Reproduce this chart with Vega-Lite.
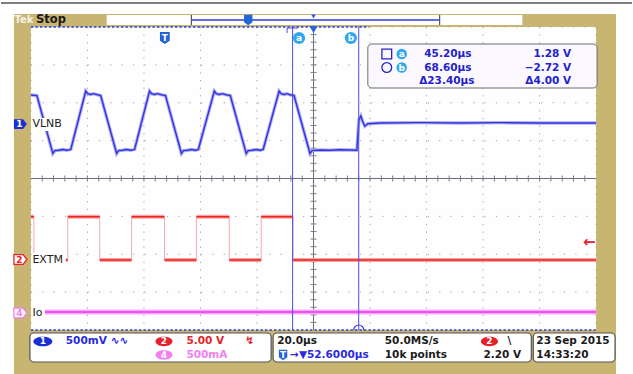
{
  "$schema": "https://vega.github.io/schema/vega-lite/v6.json",
  "width": 633,
  "height": 374,
  "autosize": {"type": "fit", "contains": "padding"},
  "padding": 0,
  "background": "#ffffff",
  "config": {"view": {"stroke": null}},
  "encoding": {
    "x": {"field": "t", "type": "quantitative", "scale": {"domain": [-57.982, 165.296], "nice": false, "zero": false}, "axis": null},
    "y": {"field": "v", "type": "quantitative", "scale": {"domain": [-5.1617, 4.7129], "nice": false, "zero": false}, "axis": null}
  },
  "datasets": {
    "rects": [
      {"kind": "tan", "t": -53.4, "t2": 159.65, "v": 4.3432, "v2": -5.1617},
      {"kind": "grat", "t": -47.4, "t2": 152.6, "v": 4, "v2": -4},
      {"kind": "recbar", "t": -20.59, "t2": 126.5, "v": 4.3168, "v2": 4.0528},
      {"kind": "labelbg", "t": -47.2, "t2": -35.76, "v": 1.5974, "v2": 1.2541},
      {"kind": "labelbg", "t": -47.2, "t2": -35.05, "v": -1.967, "v2": -2.3102},
      {"kind": "labelbg", "t": -47.2, "t2": -42.46, "v": -3.3663, "v2": -3.7359},
      {"kind": "readout", "t": 71.82, "t2": 152.95, "v": 3.5511, "v2": 2.3894},
      {"kind": "status", "t": -47.75, "t2": 37.61, "v": -4.0792, "v2": -4.8449},
      {"kind": "status", "t": 38.31, "t2": 129.67, "v": -4.0792, "v2": -4.8449},
      {"kind": "status", "t": 130.38, "t2": 159.3, "v": -4.0792, "v2": -4.8449}
    ],
    "rules": [
      {"kind": "topline", "t": -57.982, "t2": 165.296, "v": 4.6337, "v2": 4.6337},
      {"kind": "gridv", "t": -27.4, "t2": -27.4, "v": 4, "v2": -4},
      {"kind": "gridv", "t": -7.4, "t2": -7.4, "v": 4, "v2": -4},
      {"kind": "gridv", "t": 12.6, "t2": 12.6, "v": 4, "v2": -4},
      {"kind": "gridv", "t": 32.6, "t2": 32.6, "v": 4, "v2": -4},
      {"kind": "gridv", "t": 72.6, "t2": 72.6, "v": 4, "v2": -4},
      {"kind": "gridv", "t": 92.6, "t2": 92.6, "v": 4, "v2": -4},
      {"kind": "gridv", "t": 112.6, "t2": 112.6, "v": 4, "v2": -4},
      {"kind": "gridv", "t": 132.6, "t2": 132.6, "v": 4, "v2": -4},
      {"kind": "gridv", "t": -47.4, "t2": -47.4, "v": 4, "v2": -4},
      {"kind": "gridv", "t": 152.6, "t2": 152.6, "v": 4, "v2": -4},
      {"kind": "gridh", "t": -47.4, "t2": 152.6, "v": 3, "v2": 3},
      {"kind": "gridh", "t": -47.4, "t2": 152.6, "v": 2, "v2": 2},
      {"kind": "gridh", "t": -47.4, "t2": 152.6, "v": 1, "v2": 1},
      {"kind": "gridh", "t": -47.4, "t2": 152.6, "v": -1, "v2": -1},
      {"kind": "gridh", "t": -47.4, "t2": 152.6, "v": -2, "v2": -2},
      {"kind": "gridh", "t": -47.4, "t2": 152.6, "v": -3, "v2": -3},
      {"kind": "gridh", "t": 72.18, "t2": 152.6, "v": 4, "v2": 4},
      {"kind": "edgeblue", "t": -47.4, "t2": 72.18, "v": 4, "v2": 4},
      {"kind": "edgeblue", "t": -47.4, "t2": 152.6, "v": -4, "v2": -4},
      {"kind": "center", "t": -47.4, "t2": 152.6, "v": 0, "v2": 0},
      {"kind": "center", "t": 52.6, "t2": 52.6, "v": 4, "v2": -4},
      {"kind": "tick", "t": -43.4, "t2": -43.4, "v": 0.08, "v2": -0.08},
      {"kind": "tick", "t": -39.4, "t2": -39.4, "v": 0.08, "v2": -0.08},
      {"kind": "tick", "t": -35.4, "t2": -35.4, "v": 0.08, "v2": -0.08},
      {"kind": "tick", "t": -31.4, "t2": -31.4, "v": 0.08, "v2": -0.08},
      {"kind": "tick", "t": -27.4, "t2": -27.4, "v": 0.08, "v2": -0.08},
      {"kind": "tick", "t": -23.4, "t2": -23.4, "v": 0.08, "v2": -0.08},
      {"kind": "tick", "t": -19.4, "t2": -19.4, "v": 0.08, "v2": -0.08},
      {"kind": "tick", "t": -15.4, "t2": -15.4, "v": 0.08, "v2": -0.08},
      {"kind": "tick", "t": -11.4, "t2": -11.4, "v": 0.08, "v2": -0.08},
      {"kind": "tick", "t": -7.4, "t2": -7.4, "v": 0.08, "v2": -0.08},
      {"kind": "tick", "t": -3.4, "t2": -3.4, "v": 0.08, "v2": -0.08},
      {"kind": "tick", "t": 0.6, "t2": 0.6, "v": 0.08, "v2": -0.08},
      {"kind": "tick", "t": 4.6, "t2": 4.6, "v": 0.08, "v2": -0.08},
      {"kind": "tick", "t": 8.6, "t2": 8.6, "v": 0.08, "v2": -0.08},
      {"kind": "tick", "t": 12.6, "t2": 12.6, "v": 0.08, "v2": -0.08},
      {"kind": "tick", "t": 16.6, "t2": 16.6, "v": 0.08, "v2": -0.08},
      {"kind": "tick", "t": 20.6, "t2": 20.6, "v": 0.08, "v2": -0.08},
      {"kind": "tick", "t": 24.6, "t2": 24.6, "v": 0.08, "v2": -0.08},
      {"kind": "tick", "t": 28.6, "t2": 28.6, "v": 0.08, "v2": -0.08},
      {"kind": "tick", "t": 32.6, "t2": 32.6, "v": 0.08, "v2": -0.08},
      {"kind": "tick", "t": 36.6, "t2": 36.6, "v": 0.08, "v2": -0.08},
      {"kind": "tick", "t": 40.6, "t2": 40.6, "v": 0.08, "v2": -0.08},
      {"kind": "tick", "t": 44.6, "t2": 44.6, "v": 0.08, "v2": -0.08},
      {"kind": "tick", "t": 48.6, "t2": 48.6, "v": 0.08, "v2": -0.08},
      {"kind": "tick", "t": 56.6, "t2": 56.6, "v": 0.08, "v2": -0.08},
      {"kind": "tick", "t": 60.6, "t2": 60.6, "v": 0.08, "v2": -0.08},
      {"kind": "tick", "t": 64.6, "t2": 64.6, "v": 0.08, "v2": -0.08},
      {"kind": "tick", "t": 68.6, "t2": 68.6, "v": 0.08, "v2": -0.08},
      {"kind": "tick", "t": 72.6, "t2": 72.6, "v": 0.08, "v2": -0.08},
      {"kind": "tick", "t": 76.6, "t2": 76.6, "v": 0.08, "v2": -0.08},
      {"kind": "tick", "t": 80.6, "t2": 80.6, "v": 0.08, "v2": -0.08},
      {"kind": "tick", "t": 84.6, "t2": 84.6, "v": 0.08, "v2": -0.08},
      {"kind": "tick", "t": 88.6, "t2": 88.6, "v": 0.08, "v2": -0.08},
      {"kind": "tick", "t": 92.6, "t2": 92.6, "v": 0.08, "v2": -0.08},
      {"kind": "tick", "t": 96.6, "t2": 96.6, "v": 0.08, "v2": -0.08},
      {"kind": "tick", "t": 100.6, "t2": 100.6, "v": 0.08, "v2": -0.08},
      {"kind": "tick", "t": 104.6, "t2": 104.6, "v": 0.08, "v2": -0.08},
      {"kind": "tick", "t": 108.6, "t2": 108.6, "v": 0.08, "v2": -0.08},
      {"kind": "tick", "t": 112.6, "t2": 112.6, "v": 0.08, "v2": -0.08},
      {"kind": "tick", "t": 116.6, "t2": 116.6, "v": 0.08, "v2": -0.08},
      {"kind": "tick", "t": 120.6, "t2": 120.6, "v": 0.08, "v2": -0.08},
      {"kind": "tick", "t": 124.6, "t2": 124.6, "v": 0.08, "v2": -0.08},
      {"kind": "tick", "t": 128.6, "t2": 128.6, "v": 0.08, "v2": -0.08},
      {"kind": "tick", "t": 132.6, "t2": 132.6, "v": 0.08, "v2": -0.08},
      {"kind": "tick", "t": 136.6, "t2": 136.6, "v": 0.08, "v2": -0.08},
      {"kind": "tick", "t": 140.6, "t2": 140.6, "v": 0.08, "v2": -0.08},
      {"kind": "tick", "t": 144.6, "t2": 144.6, "v": 0.08, "v2": -0.08},
      {"kind": "tick", "t": 148.6, "t2": 148.6, "v": 0.08, "v2": -0.08},
      {"kind": "tick", "t": 51.54, "t2": 53.66, "v": 3.8, "v2": 3.8},
      {"kind": "tick", "t": 51.54, "t2": 53.66, "v": 3.6, "v2": 3.6},
      {"kind": "tick", "t": 51.54, "t2": 53.66, "v": 3.4, "v2": 3.4},
      {"kind": "tick", "t": 51.54, "t2": 53.66, "v": 3.2, "v2": 3.2},
      {"kind": "tick", "t": 51.54, "t2": 53.66, "v": 3.0, "v2": 3.0},
      {"kind": "tick", "t": 51.54, "t2": 53.66, "v": 2.8, "v2": 2.8},
      {"kind": "tick", "t": 51.54, "t2": 53.66, "v": 2.6, "v2": 2.6},
      {"kind": "tick", "t": 51.54, "t2": 53.66, "v": 2.4, "v2": 2.4},
      {"kind": "tick", "t": 51.54, "t2": 53.66, "v": 2.2, "v2": 2.2},
      {"kind": "tick", "t": 51.54, "t2": 53.66, "v": 2.0, "v2": 2.0},
      {"kind": "tick", "t": 51.54, "t2": 53.66, "v": 1.8, "v2": 1.8},
      {"kind": "tick", "t": 51.54, "t2": 53.66, "v": 1.6, "v2": 1.6},
      {"kind": "tick", "t": 51.54, "t2": 53.66, "v": 1.4, "v2": 1.4},
      {"kind": "tick", "t": 51.54, "t2": 53.66, "v": 1.2, "v2": 1.2},
      {"kind": "tick", "t": 51.54, "t2": 53.66, "v": 1.0, "v2": 1.0},
      {"kind": "tick", "t": 51.54, "t2": 53.66, "v": 0.8, "v2": 0.8},
      {"kind": "tick", "t": 51.54, "t2": 53.66, "v": 0.6, "v2": 0.6},
      {"kind": "tick", "t": 51.54, "t2": 53.66, "v": 0.4, "v2": 0.4},
      {"kind": "tick", "t": 51.54, "t2": 53.66, "v": 0.2, "v2": 0.2},
      {"kind": "tick", "t": 51.54, "t2": 53.66, "v": -0.2, "v2": -0.2},
      {"kind": "tick", "t": 51.54, "t2": 53.66, "v": -0.4, "v2": -0.4},
      {"kind": "tick", "t": 51.54, "t2": 53.66, "v": -0.6, "v2": -0.6},
      {"kind": "tick", "t": 51.54, "t2": 53.66, "v": -0.8, "v2": -0.8},
      {"kind": "tick", "t": 51.54, "t2": 53.66, "v": -1.0, "v2": -1.0},
      {"kind": "tick", "t": 51.54, "t2": 53.66, "v": -1.2, "v2": -1.2},
      {"kind": "tick", "t": 51.54, "t2": 53.66, "v": -1.4, "v2": -1.4},
      {"kind": "tick", "t": 51.54, "t2": 53.66, "v": -1.6, "v2": -1.6},
      {"kind": "tick", "t": 51.54, "t2": 53.66, "v": -1.8, "v2": -1.8},
      {"kind": "tick", "t": 51.54, "t2": 53.66, "v": -2.0, "v2": -2.0},
      {"kind": "tick", "t": 51.54, "t2": 53.66, "v": -2.2, "v2": -2.2},
      {"kind": "tick", "t": 51.54, "t2": 53.66, "v": -2.4, "v2": -2.4},
      {"kind": "tick", "t": 51.54, "t2": 53.66, "v": -2.6, "v2": -2.6},
      {"kind": "tick", "t": 51.54, "t2": 53.66, "v": -2.8, "v2": -2.8},
      {"kind": "tick", "t": 51.54, "t2": 53.66, "v": -3.0, "v2": -3.0},
      {"kind": "tick", "t": 51.54, "t2": 53.66, "v": -3.2, "v2": -3.2},
      {"kind": "tick", "t": 51.54, "t2": 53.66, "v": -3.4, "v2": -3.4},
      {"kind": "tick", "t": 51.54, "t2": 53.66, "v": -3.6, "v2": -3.6},
      {"kind": "tick", "t": 51.54, "t2": 53.66, "v": -3.8, "v2": -3.8},
      {"kind": "cursor", "t": 45.2, "t2": 45.2, "v": 4, "v2": -4},
      {"kind": "cursor", "t": 68.6, "t2": 68.6, "v": 4, "v2": -4},
      {"kind": "cursor", "t": 43.25, "t2": 47.13, "v": 3.9736, "v2": 3.9736},
      {"kind": "cursor", "t": 43.25, "t2": 43.25, "v": 3.9736, "v2": 3.8416},
      {"kind": "recline", "t": 9.39, "t2": 97.22, "v": 4.1848, "v2": 4.1848},
      {"kind": "recend", "t": 9.39, "t2": 9.39, "v": 4.3168, "v2": 4.0528},
      {"kind": "recend", "t": 97.22, "t2": 97.22, "v": 4.3168, "v2": 4.0528}
    ],
    "ch1": [
      {"t": -47.40, "v": 2.205}, {"t": -45.28, "v": 2.19}, {"t": -39.64, "v": 0.66}, {"t": -38.93, "v": 0.735},
      {"t": -37.52, "v": 0.745}, {"t": -36.11, "v": 0.765}, {"t": -34.70, "v": 0.745}, {"t": -33.29, "v": 0.77},
      {"t": -28.00, "v": 2.31}, {"t": -27.29, "v": 2.24}, {"t": -26.24, "v": 2.22}, {"t": -25.18, "v": 2.24},
      {"t": -23.77, "v": 2.21}, {"t": -22.71, "v": 2.19}, {"t": -17.07, "v": 0.66}, {"t": -16.36, "v": 0.735},
      {"t": -14.95, "v": 0.745}, {"t": -13.54, "v": 0.765}, {"t": -12.13, "v": 0.745}, {"t": -10.72, "v": 0.77},
      {"t": -5.42, "v": 2.31}, {"t": -4.72, "v": 2.24}, {"t": -3.66, "v": 2.22}, {"t": -2.60, "v": 2.24},
      {"t": -1.19, "v": 2.21}, {"t": 0.22, "v": 2.19}, {"t": 5.86, "v": 0.66}, {"t": 6.57, "v": 0.735},
      {"t": 7.98, "v": 0.745}, {"t": 9.39, "v": 0.765}, {"t": 10.80, "v": 0.745}, {"t": 11.86, "v": 0.77},
      {"t": 17.50, "v": 2.31}, {"t": 18.21, "v": 2.24}, {"t": 19.27, "v": 2.22}, {"t": 20.33, "v": 2.24},
      {"t": 21.74, "v": 2.21}, {"t": 23.15, "v": 2.19}, {"t": 28.79, "v": 0.66}, {"t": 29.50, "v": 0.735},
      {"t": 30.91, "v": 0.745}, {"t": 32.32, "v": 0.765}, {"t": 33.73, "v": 0.745}, {"t": 34.79, "v": 0.77},
      {"t": 40.43, "v": 2.31}, {"t": 41.14, "v": 2.24}, {"t": 42.19, "v": 2.22}, {"t": 43.25, "v": 2.24},
      {"t": 44.31, "v": 2.21}, {"t": 45.72, "v": 2.19}, {"t": 51.36, "v": 0.66}, {"t": 52.06, "v": 0.735},
      {"t": 54.89, "v": 0.752}, {"t": 58.42, "v": 0.745}, {"t": 61.94, "v": 0.76}, {"t": 65.47, "v": 0.752},
      {"t": 67.94, "v": 0.745}, {"t": 68.65, "v": 1.545}, {"t": 69.35, "v": 1.650}, {"t": 70.06, "v": 1.492},
      {"t": 70.76, "v": 1.38}, {"t": 71.82, "v": 1.445}, {"t": 76.05, "v": 1.465}, {"t": 90.16, "v": 1.475},
      {"t": 104.27, "v": 1.465}, {"t": 118.38, "v": 1.475}, {"t": 132.49, "v": 1.465}, {"t": 152.60, "v": 1.465}
    ],
    "ch2": [
      {"kind": "level", "t": -47.40, "t2": -46.34, "v": -1.009, "v2": -1.009},
      {"kind": "level", "t": -46.34, "t2": -34.35, "v": -2.152, "v2": -2.152},
      {"kind": "level", "t": -34.35, "t2": -23.06, "v": -1.009, "v2": -1.009},
      {"kind": "level", "t": -23.06, "t2": -11.77, "v": -2.152, "v2": -2.152},
      {"kind": "level", "t": -11.77, "t2": -0.13, "v": -1.009, "v2": -1.009},
      {"kind": "level", "t": -0.13, "t2": 11.16, "v": -2.152, "v2": -2.152},
      {"kind": "level", "t": 11.16, "t2": 22.79, "v": -1.009, "v2": -1.009},
      {"kind": "level", "t": 22.79, "t2": 34.08, "v": -2.152, "v2": -2.152},
      {"kind": "level", "t": 34.08, "t2": 45.37, "v": -1.009, "v2": -1.009},
      {"kind": "level", "t": 45.37, "t2": 152.6, "v": -2.152, "v2": -2.152},
      {"kind": "edge", "t": -46.34, "t2": -46.34, "v": -1.009, "v2": -2.152},
      {"kind": "edge", "t": -34.35, "t2": -34.35, "v": -1.009, "v2": -2.152},
      {"kind": "edge", "t": -23.06, "t2": -23.06, "v": -1.009, "v2": -2.152},
      {"kind": "edge", "t": -11.77, "t2": -11.77, "v": -1.009, "v2": -2.152},
      {"kind": "edge", "t": -0.13, "t2": -0.13, "v": -1.009, "v2": -2.152},
      {"kind": "edge", "t": 11.16, "t2": 11.16, "v": -1.009, "v2": -2.152},
      {"kind": "edge", "t": 22.79, "t2": 22.79, "v": -1.009, "v2": -2.152},
      {"kind": "edge", "t": 34.08, "t2": 34.08, "v": -1.009, "v2": -2.152},
      {"kind": "edge", "t": 45.37, "t2": 45.37, "v": -1.009, "v2": -2.152}
    ],
    "ch4": [
      {"t": -42.46, "t2": 152.6, "v": -3.5247, "v2": -3.5247}
    ],
    "icons": [
      {"kind": "tag1", "t": -51.1, "v": 1.4389},
      {"kind": "tag2", "t": -51.1, "v": -2.1386},
      {"kind": "tag4", "t": -51.1, "v": -3.5511},
      {"kind": "shield", "t": 0, "v": 3.7096},
      {"kind": "shieldsmall", "t": 29.5, "v": 4.1848},
      {"kind": "shieldsmall", "t": 41.84, "v": -4.6601},
      {"kind": "curlabel", "t": 47.48, "v": 3.7096},
      {"kind": "curlabel", "t": 65.83, "v": 3.7096},
      {"kind": "rolabel", "t": 83.82, "v": 3.2871},
      {"kind": "rolabel", "t": 83.82, "v": 2.9307},
      {"kind": "rosquare", "t": 78.53, "v": 3.2871},
      {"kind": "rocircle", "t": 78.53, "v": 2.9307},
      {"kind": "trig", "t": 52.6, "v": 3.934},
      {"kind": "trigsmall", "t": 52.6, "v": 4.2772},
      {"kind": "stat1", "t": -43.17, "v": -4.3036},
      {"kind": "stat2", "t": -0.31, "v": -4.3036},
      {"kind": "stat2", "t": 114.86, "v": -4.3036},
      {"kind": "stat4", "t": -0.31, "v": -4.6601},
      {"kind": "arc", "t": 68.6, "v": -3.934}
    ],
    "texts": [
      {"kind": "tek", "t": -53.2, "v": 4.1848, "label": "Tek"},
      {"kind": "stop", "t": -45.6, "v": 4.1848, "label": "Stop"},
      {"kind": "white", "t": -51.5, "v": 1.4389, "label": "1"},
      {"kind": "white", "t": 0, "v": 3.72, "label": "T"},
      {"kind": "white", "t": 47.48, "v": 3.7096, "label": "a"},
      {"kind": "white", "t": 65.83, "v": 3.7096, "label": "b"},
      {"kind": "white", "t": 83.82, "v": 3.2871, "label": "a"},
      {"kind": "white", "t": 83.82, "v": 2.9307, "label": "b"},
      {"kind": "white", "t": -43.17, "v": -4.3036, "label": "1"},
      {"kind": "white", "t": -0.31, "v": -4.3036, "label": "2"},
      {"kind": "white", "t": 114.86, "v": -4.3036, "label": "2"},
      {"kind": "white", "t": -0.31, "v": -4.6601, "label": "4"},
      {"kind": "white", "t": 41.84, "v": -4.655, "label": "T"},
      {"kind": "tag2text", "t": -51.5, "v": -2.1386, "label": "2"},
      {"kind": "tag4text", "t": -51.5, "v": -3.5511, "label": "4"},
      {"kind": "chan", "t": -46.87, "v": 1.4389, "label": "VLNB"},
      {"kind": "chan", "t": -46.87, "v": -2.1386, "label": "EXTM"},
      {"kind": "chan", "t": -46.87, "v": -3.5511, "label": "Io"},
      {"kind": "readout", "t": 108.51, "v": 3.2871, "label": "45.20µs"},
      {"kind": "readout", "t": 143.78, "v": 3.2871, "label": "1.28 V"},
      {"kind": "readout", "t": 108.51, "v": 2.9307, "label": "68.60µs"},
      {"kind": "readout", "t": 143.78, "v": 2.9307, "label": "−2.72 V"},
      {"kind": "readout", "t": 109.57, "v": 2.5743, "label": "Δ23.40µs"},
      {"kind": "readout", "t": 143.78, "v": 2.5743, "label": "Δ4.00 V"},
      {"kind": "sblue", "t": -35.05, "v": -4.3036, "label": "500mV"},
      {"kind": "sblue", "t": -19.18, "v": -4.3036, "label": "∿∿"},
      {"kind": "sblue", "t": 44.31, "v": -4.6601, "label": "→▼52.6000µs"},
      {"kind": "sred", "t": 7.63, "v": -4.3036, "label": "5.00 V"},
      {"kind": "sred", "t": 28.44, "v": -4.3036, "label": "↯"},
      {"kind": "smag", "t": 7.63, "v": -4.6601, "label": "500mA"},
      {"kind": "sblack", "t": 39.73, "v": -4.3036, "label": "20.0µs"},
      {"kind": "sblack", "t": 77.82, "v": -4.3036, "label": "50.0MS/s"},
      {"kind": "sblack", "t": 121.2, "v": -4.3036, "label": "\\"},
      {"kind": "sblack", "t": 77.82, "v": -4.6601, "label": "10k points"},
      {"kind": "sblack", "t": 112.74, "v": -4.6601, "label": "2.20 V"},
      {"kind": "sblack", "t": 131.44, "v": -4.3036, "label": "23 Sep  2015"},
      {"kind": "sblack", "t": 131.44, "v": -4.6601, "label": "14:33:20"},
      {"kind": "arrow", "t": 150.2, "v": -1.6766, "label": "←"}
    ]
  },
  "layer": [
    {"data": {"name": "rects"}, "transform": [{"filter": "datum.kind == 'tan'"}], "mark": {"type": "rect", "fill": "#c7b571"}, "encoding": {"x2": {"field": "t2"}, "y2": {"field": "v2"}}},
    {"data": {"name": "rects"}, "transform": [{"filter": "datum.kind == 'grat' || datum.kind == 'recbar'"}], "mark": {"type": "rect", "fill": "#fefefe"}, "encoding": {"x2": {"field": "t2"}, "y2": {"field": "v2"}}},
    {"data": {"name": "rules"}, "transform": [{"filter": "datum.kind == 'topline'"}], "mark": {"type": "rule", "color": "#555555", "strokeWidth": 1.5}, "encoding": {"x2": {"field": "t2"}, "y2": {"field": "v2"}}},
    {"data": {"name": "rules"}, "transform": [{"filter": "datum.kind == 'gridv'"}], "mark": {"type": "rule", "color": "#a0a0a0", "strokeWidth": 1, "strokeDash": [1.2, 6.375]}, "encoding": {"x2": {"field": "t2"}, "y2": {"field": "v2"}}},
    {"data": {"name": "rules"}, "transform": [{"filter": "datum.kind == 'gridh'"}], "mark": {"type": "rule", "color": "#a0a0a0", "strokeWidth": 1, "strokeDash": [1.2, 10.14]}, "encoding": {"x2": {"field": "t2"}, "y2": {"field": "v2"}}},
    {"data": {"name": "rules"}, "transform": [{"filter": "datum.kind == 'edgeblue'"}], "mark": {"type": "rule", "color": "#2b3fd9", "strokeWidth": 1.3, "strokeDash": [2.5, 2]}, "encoding": {"x2": {"field": "t2"}, "y2": {"field": "v2"}}},
    {"data": {"name": "rules"}, "transform": [{"filter": "datum.kind == 'center'"}], "mark": {"type": "rule", "color": "#6c6c7c", "strokeWidth": 1}, "encoding": {"x2": {"field": "t2"}, "y2": {"field": "v2"}}},
    {"data": {"name": "rules"}, "transform": [{"filter": "datum.kind == 'tick'"}], "mark": {"type": "rule", "color": "#7c7c8c", "strokeWidth": 1}, "encoding": {"x2": {"field": "t2"}, "y2": {"field": "v2"}}},
    {"data": {"name": "ch4"}, "mark": {"type": "rule", "color": "#f6a6f6", "strokeWidth": 5}, "encoding": {"x2": {"field": "t2"}, "y2": {"field": "v2"}}},
    {"data": {"name": "ch4"}, "mark": {"type": "rule", "color": "#ec36ec", "strokeWidth": 1.6}, "encoding": {"x2": {"field": "t2"}, "y2": {"field": "v2"}}},
    {"data": {"name": "ch2"}, "transform": [{"filter": "datum.kind == 'edge'"}], "mark": {"type": "rule", "color": "#f4aaaa", "strokeWidth": 1}, "encoding": {"x2": {"field": "t2"}, "y2": {"field": "v2"}}},
    {"data": {"name": "ch2"}, "transform": [{"filter": "datum.kind == 'level'"}], "mark": {"type": "rule", "color": "#f7a3a3", "strokeWidth": 4}, "encoding": {"x2": {"field": "t2"}, "y2": {"field": "v2"}}},
    {"data": {"name": "ch2"}, "transform": [{"filter": "datum.kind == 'level'"}], "mark": {"type": "rule", "color": "#ee2020", "strokeWidth": 1.6}, "encoding": {"x2": {"field": "t2"}, "y2": {"field": "v2"}}},
    {"data": {"name": "ch1"}, "mark": {"type": "line", "color": "#aeaef4", "strokeWidth": 3.4}, "encoding": {}},
    {"data": {"name": "ch1"}, "mark": {"type": "line", "color": "#3434df", "strokeWidth": 1.4}, "encoding": {}},
    {"data": {"name": "rules"}, "transform": [{"filter": "datum.kind == 'cursor'"}], "mark": {"type": "rule", "color": "#4d4deb", "strokeWidth": 1}, "encoding": {"x2": {"field": "t2"}, "y2": {"field": "v2"}}},
    {"data": {"name": "rules"}, "transform": [{"filter": "datum.kind == 'recline'"}], "mark": {"type": "rule", "color": "#2b3fd9", "strokeWidth": 1.5}, "encoding": {"x2": {"field": "t2"}, "y2": {"field": "v2"}}},
    {"data": {"name": "rules"}, "transform": [{"filter": "datum.kind == 'recend'"}], "mark": {"type": "rule", "color": "#555566", "strokeWidth": 1.2}, "encoding": {"x2": {"field": "t2"}, "y2": {"field": "v2"}}},
    {"data": {"name": "rects"}, "transform": [{"filter": "datum.kind == 'labelbg'"}], "mark": {"type": "rect", "fill": "#fefefe"}, "encoding": {"x2": {"field": "t2"}, "y2": {"field": "v2"}}},
    {"data": {"name": "rects"}, "transform": [{"filter": "datum.kind == 'readout'"}], "mark": {"type": "rect", "fill": "#fbf9ff", "stroke": "#6a6a6a", "strokeWidth": 1, "cornerRadius": 4}, "encoding": {"x2": {"field": "t2"}, "y2": {"field": "v2"}}},
    {"data": {"name": "rects"}, "transform": [{"filter": "datum.kind == 'status'"}], "mark": {"type": "rect", "fill": "#ffffff", "stroke": "#555555", "strokeWidth": 1.2, "cornerRadius": 4}, "encoding": {"x2": {"field": "t2"}, "y2": {"field": "v2"}}},
    {"data": {"name": "icons"}, "transform": [{"filter": "datum.kind == 'tag1'"}], "mark": {"type": "point", "shape": "M-1,-0.75L0.4,-0.75L1,0L0.4,0.75L-1,0.75Z", "size": 169, "filled": true, "fill": "#1a2fd6", "opacity": 1}},
    {"data": {"name": "icons"}, "transform": [{"filter": "datum.kind == 'tag2'"}], "mark": {"type": "point", "shape": "M-1,-0.75L0.4,-0.75L1,0L0.4,0.75L-1,0.75Z", "size": 169, "filled": true, "fill": "#ffffff", "stroke": "#e5202a", "strokeWidth": 1.3, "opacity": 1}},
    {"data": {"name": "icons"}, "transform": [{"filter": "datum.kind == 'tag4'"}], "mark": {"type": "point", "shape": "M-1,-0.75L0.4,-0.75L1,0L0.4,0.75L-1,0.75Z", "size": 169, "filled": true, "fill": "#ffffff", "stroke": "#f07ff0", "strokeWidth": 1.3, "opacity": 1}},
    {"data": {"name": "icons"}, "transform": [{"filter": "datum.kind == 'shield'"}], "mark": {"type": "point", "shape": "M-0.8,-1L0.8,-1L0.8,0.45L0,1L-0.8,0.45Z", "size": 150, "filled": true, "fill": "#2563d8", "opacity": 1}},
    {"data": {"name": "icons"}, "transform": [{"filter": "datum.kind == 'shieldsmall'"}], "mark": {"type": "point", "shape": "M-0.8,-1L0.8,-1L0.8,0.45L0,1L-0.8,0.45Z", "size": 110, "filled": true, "fill": "#2563d8", "opacity": 1}},
    {"data": {"name": "icons"}, "transform": [{"filter": "datum.kind == 'curlabel'"}], "mark": {"type": "point", "shape": "circle", "size": 150, "filled": true, "fill": "#2fa8ee", "opacity": 1}},
    {"data": {"name": "icons"}, "transform": [{"filter": "datum.kind == 'rolabel'"}], "mark": {"type": "point", "shape": "circle", "size": 110, "filled": true, "fill": "#2fa8ee", "opacity": 1}},
    {"data": {"name": "icons"}, "transform": [{"filter": "datum.kind == 'rosquare'"}], "mark": {"type": "point", "shape": "square", "size": 95, "filled": false, "stroke": "#2323c9", "strokeWidth": 1.3, "opacity": 1}},
    {"data": {"name": "icons"}, "transform": [{"filter": "datum.kind == 'rocircle'"}], "mark": {"type": "point", "shape": "circle", "size": 95, "filled": false, "stroke": "#2323c9", "strokeWidth": 1.3, "opacity": 1}},
    {"data": {"name": "icons"}, "transform": [{"filter": "datum.kind == 'trig'"}], "mark": {"type": "point", "shape": "triangle-down", "size": 70, "filled": true, "fill": "#2f5fe0", "opacity": 1}},
    {"data": {"name": "icons"}, "transform": [{"filter": "datum.kind == 'trigsmall'"}], "mark": {"type": "point", "shape": "triangle-down", "size": 22, "filled": true, "fill": "#2f5fe0", "opacity": 1}},
    {"data": {"name": "icons"}, "transform": [{"filter": "datum.kind == 'stat1'"}], "mark": {"type": "point", "shape": "M-1,0A1,0.5 0 1 1 1,0A1,0.5 0 1 1 -1,0Z", "size": 361, "filled": true, "fill": "#1a2fd6", "opacity": 1}},
    {"data": {"name": "icons"}, "transform": [{"filter": "datum.kind == 'stat2'"}], "mark": {"type": "point", "shape": "M-1,0A1,0.55 0 1 1 1,0A1,0.55 0 1 1 -1,0Z", "size": 289, "filled": true, "fill": "#e5202a", "opacity": 1}},
    {"data": {"name": "icons"}, "transform": [{"filter": "datum.kind == 'stat4'"}], "mark": {"type": "point", "shape": "M-1,0A1,0.55 0 1 1 1,0A1,0.55 0 1 1 -1,0Z", "size": 289, "filled": true, "fill": "#f07ff0", "opacity": 1}},
    {"data": {"name": "icons"}, "transform": [{"filter": "datum.kind == 'arc'"}], "mark": {"type": "point", "shape": "M-1,0.5A1,1 0 0 1 1,0.5", "size": 100, "filled": false, "stroke": "#3a3ae6", "strokeWidth": 1.2, "opacity": 1}},
    {"data": {"name": "texts"}, "transform": [{"filter": "datum.kind == 'tek'"}], "mark": {"type": "text", "align": "left", "baseline": "middle", "font": "DejaVu Sans", "fontSize": 10, "fontWeight": "bold", "color": "#f7f3e6"}, "encoding": {"text": {"field": "label"}}},
    {"data": {"name": "texts"}, "transform": [{"filter": "datum.kind == 'stop'"}], "mark": {"type": "text", "align": "left", "baseline": "middle", "font": "DejaVu Sans", "fontSize": 11.5, "fontWeight": "bold", "color": "#1a1a1a"}, "encoding": {"text": {"field": "label"}}},
    {"data": {"name": "texts"}, "transform": [{"filter": "datum.kind == 'white'"}], "mark": {"type": "text", "align": "center", "baseline": "middle", "font": "DejaVu Sans", "fontSize": 9, "fontWeight": "bold", "color": "#ffffff"}, "encoding": {"text": {"field": "label"}}},
    {"data": {"name": "texts"}, "transform": [{"filter": "datum.kind == 'tag2text'"}], "mark": {"type": "text", "align": "center", "baseline": "middle", "font": "DejaVu Sans", "fontSize": 9, "fontWeight": "bold", "color": "#e5202a"}, "encoding": {"text": {"field": "label"}}},
    {"data": {"name": "texts"}, "transform": [{"filter": "datum.kind == 'tag4text'"}], "mark": {"type": "text", "align": "center", "baseline": "middle", "font": "DejaVu Sans", "fontSize": 9, "fontWeight": "bold", "color": "#f07ff0"}, "encoding": {"text": {"field": "label"}}},
    {"data": {"name": "texts"}, "transform": [{"filter": "datum.kind == 'chan'"}], "mark": {"type": "text", "align": "left", "baseline": "middle", "font": "DejaVu Sans", "fontSize": 11, "color": "#222222"}, "encoding": {"text": {"field": "label"}}},
    {"data": {"name": "texts"}, "transform": [{"filter": "datum.kind == 'readout'"}], "mark": {"type": "text", "align": "right", "baseline": "middle", "font": "DejaVu Sans", "fontSize": 10.5, "fontWeight": "bold", "color": "#2323c9"}, "encoding": {"text": {"field": "label"}}},
    {"data": {"name": "texts"}, "transform": [{"filter": "datum.kind == 'sblue'"}], "mark": {"type": "text", "align": "left", "baseline": "middle", "font": "DejaVu Sans", "fontSize": 10.5, "fontWeight": "bold", "color": "#2a2ade"}, "encoding": {"text": {"field": "label"}}},
    {"data": {"name": "texts"}, "transform": [{"filter": "datum.kind == 'sred'"}], "mark": {"type": "text", "align": "left", "baseline": "middle", "font": "DejaVu Sans", "fontSize": 10.5, "fontWeight": "bold", "color": "#e5202a"}, "encoding": {"text": {"field": "label"}}},
    {"data": {"name": "texts"}, "transform": [{"filter": "datum.kind == 'smag'"}], "mark": {"type": "text", "align": "left", "baseline": "middle", "font": "DejaVu Sans", "fontSize": 10.5, "fontWeight": "bold", "color": "#f07ff0"}, "encoding": {"text": {"field": "label"}}},
    {"data": {"name": "texts"}, "transform": [{"filter": "datum.kind == 'sblack'"}], "mark": {"type": "text", "align": "left", "baseline": "middle", "font": "DejaVu Sans", "fontSize": 10.5, "fontWeight": "bold", "color": "#1a1a1a"}, "encoding": {"text": {"field": "label"}}},
    {"data": {"name": "texts"}, "transform": [{"filter": "datum.kind == 'arrow'"}], "mark": {"type": "text", "align": "center", "baseline": "middle", "font": "DejaVu Sans", "fontSize": 15, "fontWeight": "bold", "color": "#e5202a"}, "encoding": {"text": {"field": "label"}}}
  ]
}
